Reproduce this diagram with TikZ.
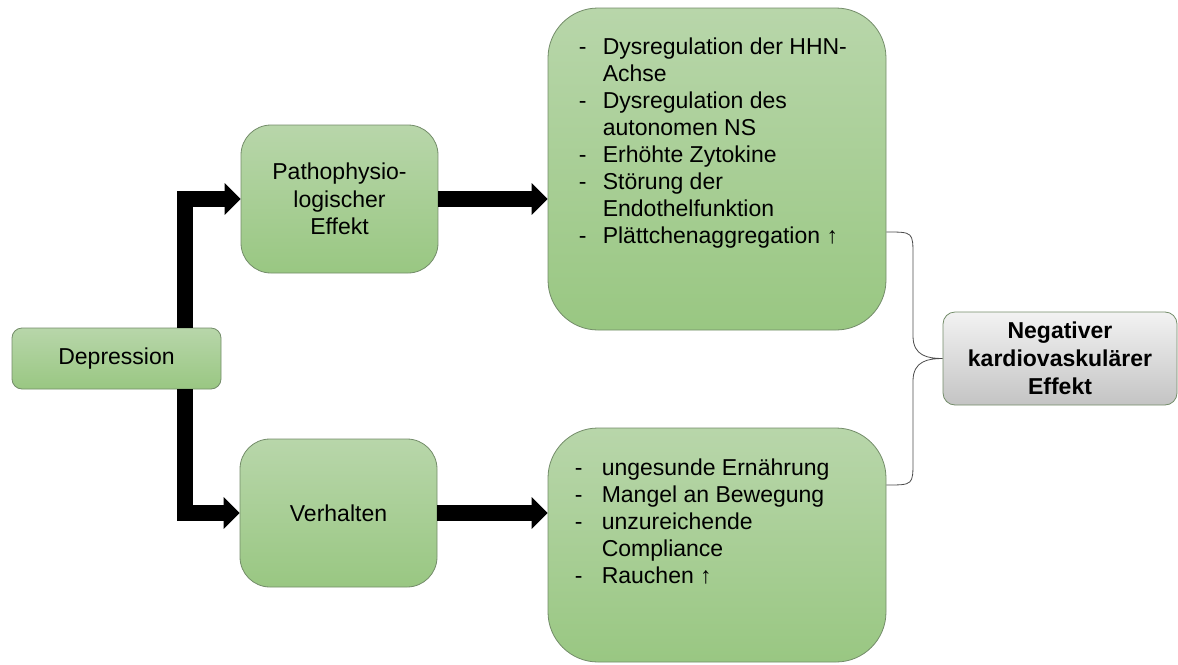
\documentclass[tikz,border=0pt]{standalone}
\usepackage{fontspec}
\setmainfont{Liberation Sans}
\usetikzlibrary{arrows.meta}

\definecolor{boxtop}{RGB}{184,214,170}
\definecolor{boxbottom}{RGB}{153,199,130}
\definecolor{boxline}{RGB}{115,140,105}
\definecolor{greytop}{RGB}{242,242,242}
\definecolor{greybottom}{RGB}{196,196,196}

\newcommand{\itm}[1][24pt]{\makebox[#1][l]{-}}
\newcommand{\ind}[1][24pt]{\hspace*{#1}}

\begin{document}
\begin{tikzpicture}[x=1pt, y=-1pt, font=\fontsize{23}{27.5}\selectfont,
        greenbox/.style={draw=boxline, line width=0.8pt, top color=boxtop, bottom color=boxbottom, align=center, inner sep=0pt},
        greybox/.style={draw=boxline, line width=0.8pt, top color=greytop, bottom color=greybottom, align=center, inner sep=0pt, font=\fontsize{23}{28}\selectfont\bfseries},
        listtext/.style={align=left, inner sep=0pt, anchor=north west, font=\fontsize{23}{27}\selectfont},
        fat/.style={line width=16pt, line join=miter, -{Triangle[length=16pt, width=31pt]}},
        bracket/.style={draw=black!70, line width=0.8pt}]

        \useasboundingbox (0,0) rectangle (1178,664);

        % boxes
        \node[greenbox, rounded corners=10pt, minimum width=209pt, minimum height=61pt] (dep) at (116.5,358.5) {Depression};
        \node[greenbox, rounded corners=30pt, minimum width=197pt, minimum height=148pt] (patho) at (339.5,199) {Pathophysio-\\logischer\\Effekt};
        \node[greenbox, rounded corners=30pt, minimum width=197pt, minimum height=148pt] (verh) at (338.5,513) {Verhalten};
        \node[greenbox, rounded corners=50pt, minimum width=338pt, minimum height=322pt] (mech) at (717,169) {};
        \node[greenbox, rounded corners=50pt, minimum width=338pt, minimum height=234pt] (beh) at (717,545) {};
        \node[greybox, rounded corners=12pt, minimum width=234pt, minimum height=93pt] (neg) at (1060,358.5) {Negativer\\kardiovaskulärer\\Effekt};

        % lists
        \node[listtext] (mechlist) at ([xshift=31pt,yshift=-30pt]mech.north west)
            {\itm Dysregulation der HHN-\\\ind Achse\\\itm Dysregulation des\\\ind autonomen NS\\\itm Erhöhte Zytokine\\\itm Störung der\\\ind Endothelfunktion\\\itm Plättchenaggregation ↑};
        \node[listtext] (behlist) at ([xshift=27pt,yshift=-31pt]beh.north west)
            {\itm[27pt]ungesunde Ernährung\\\itm[27pt]Mangel an Bewegung\\\itm[27pt]unzureichende\\\ind[27pt]Compliance\\\itm[27pt]Rauchen ↑};

        % arrows
        \draw[fat] ([xshift=-36pt]dep.north east) |- (patho.west);
        \draw[fat] ([xshift=-36pt]dep.south east) |- (verh.west);
        \draw[fat] (patho.east) -- (patho.east -| mech.west);
        \draw[fat] (verh.east) -- (verh.east -| beh.west);

        % brace
        \coordinate (btop) at ([yshift=-63pt]mech.east);
        \coordinate (bbot) at ([yshift=60pt]beh.east);
        \draw[bracket] (btop) .. controls (913,232) .. (913,256) -- (913,336)
            .. controls (913,356) and (928,358.5) .. (neg.west)
            .. controls (928,358.5) and (913,361) .. (913,381) -- (913,461)
            .. controls (913,485) .. (bbot);
    \end{tikzpicture}
\end{document}
